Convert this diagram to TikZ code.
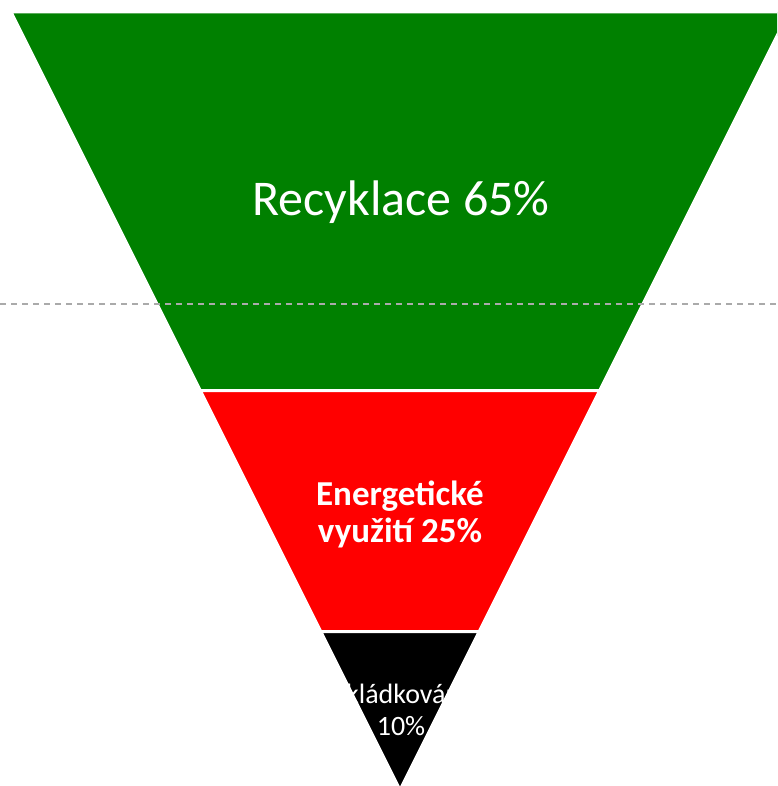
\documentclass[tikz,border=0pt]{standalone}
\usepackage{fontspec}
\setmainfont{Carlito}
\definecolor{recgreen}{HTML}{008000}
\definecolor{energred}{HTML}{FF0000}
\definecolor{guidegray}{HTML}{AAAAAA}
\tikzset{
  band/.style={line width=3pt, draw=white, line join=miter},
  lbl/.style={text=white, anchor=base, inner sep=0pt, align=center}
}
\begin{document}
\begin{tikzpicture}[x=1pt,y=-1pt]
\useasboundingbox (0,0) rectangle (777,786);
\clip (0,0) rectangle (777,786);
\fill[white] (0,0) rectangle (777,786);
% bands (half width = 0.5*(790-y), centre x=400)
\path[band, fill=recgreen] (11,12) -- (789,12) -- (599.75,390.5) -- (200.25,390.5) -- cycle;
\path[band, fill=energred] (200.25,390.5) -- (599.75,390.5) -- (479.25,631.5) -- (320.75,631.5) -- cycle;
\path[band, fill=black] (320.75,631.5) -- (479.25,631.5) -- (400,790) -- cycle;
% dashed guide
\coordinate (gl) at (0,304);
\coordinate (gr) at (777,304);
\draw[guidegray, line width=1.5pt, dash pattern=on 6pt off 5pt] (gl) -- (gr);
% labels
\node[lbl, font=\fontsize{50}{60}\selectfont] (rec) at (401,215) {Recyklace 65\%};
\node[lbl, font=\bfseries\fontsize{35}{37}\selectfont] (en1) at (400,505) {Energetické};
\node[lbl, font=\bfseries\fontsize{35}{37}\selectfont] (en2) at (400,542) {využití 25\%};
\node[lbl, font=\fontsize{28}{32}\selectfont] (sk1) at (400,703) {Skládkování};
\node[lbl, font=\fontsize{28}{32}\selectfont] (sk2) at (401,735) {10\%};
\end{tikzpicture}
\end{document}
